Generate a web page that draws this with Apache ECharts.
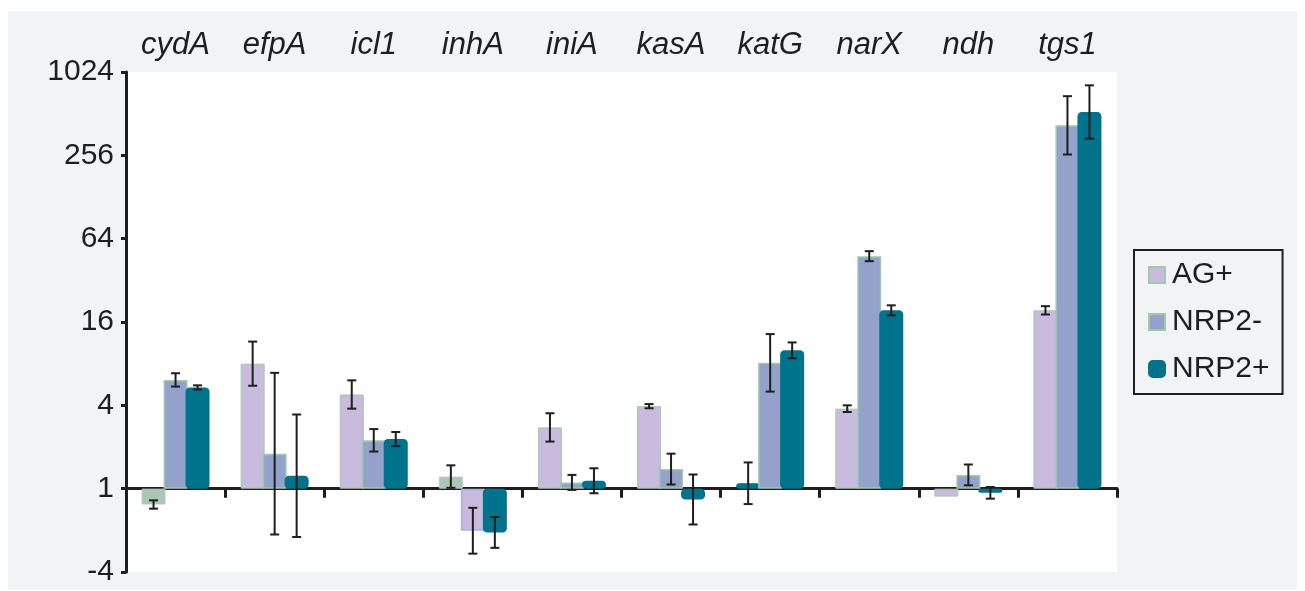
<!DOCTYPE html>
<html>
<head>
<meta charset="utf-8">
<script src="https://cdn.jsdelivr.net/npm/echarts@6/dist/echarts.min.js"></script>
<style>
  html, body { margin: 0; padding: 0; background: #ffffff; }
  #panel { position: absolute; left: 8px; top: 11px; width: 1289px; height: 579px; background: #f2f3f5; }
  #chart { position: absolute; left: 0; top: 0; width: 1305px; height: 591px; }
</style>
</head>
<body>
<div id="panel"></div>
<div id="chart"></div>
<script>
// Genes on the category axis
const genes = ['cydA', 'efpA', 'icl1', 'inhA', 'iniA', 'kasA', 'katG', 'narX', 'ndh', 'tgs1'];

// Relative expression as log2 fold change, with the half-width of each error bar (log2 units)
const agPlus        = [-0.38, 3.00, 2.26, 0.29, 1.47, 1.98, 0.13, 1.92, -0.19, 4.28];
const agPlusErr     = [0.10, 0.53, 0.34, 0.27, 0.34, 0.05, 0.50, 0.08, 0.00, 0.10];
const nrp2Minus     = [2.61, 0.84, 1.16, -1.01, 0.15, 0.47, 3.02, 5.58, 0.33, 8.72];
const nrp2MinusErr  = [0.16, 1.94, 0.27, 0.55, 0.18, 0.37, 0.69, 0.12, 0.25, 0.70];
const nrp2Plus      = [2.43, 0.31, 1.19, -1.05, 0.19, -0.26, 3.32, 4.28, -0.10, 9.04];
const nrp2PlusErr   = [0.05, 1.47, 0.17, 0.37, 0.30, 0.60, 0.19, 0.12, 0.14, 0.64];

// Axis ticks (log2 units) and their fold-change labels
const yTicks = [-2, 0, 2, 4, 6, 8, 10];
const yTickLabels = ['-4', '1', '4', '16', '64', '256', '1024'];

// ---- styling ----
const LILAC = '#c8bbdd';
const BLUE = '#93a1cb';
const TEAL = '#00738c';
const SAGE = '#a9c8b3';
const GREEN_EDGE = '#9fc9a8';
const INK = '#1e1e1e';
const FONT = 'Liberation Sans, Arial, sans-serif';

const BAR_WIDTH = 24;
const BAR_GAP = -1 / 12;                       // slight overlap between neighbouring bars
const BAR_STEP = BAR_WIDTH * (1 + BAR_GAP);    // centre-to-centre distance

const seriesDefs = [
  { name: 'AG+',   values: agPlus,    errors: agPlusErr, icon: 'rect',
    style: { color: LILAC, borderColor: GREEN_EDGE, borderWidth: 1 } },
  { name: 'NRP2-', values: nrp2Minus, errors: nrp2MinusErr, icon: 'rect',
    style: { color: BLUE, borderColor: GREEN_EDGE, borderWidth: 1.5 } },
  { name: 'NRP2+', values: nrp2Plus,  errors: nrp2PlusErr, icon: 'roundRect',
    style: { color: TEAL, borderColor: TEAL, borderWidth: 2.5, borderRadius: 3 } }
];

// Individual bars drawn in a different tint
const pointStyles = {
  'AG+':   { 0: { color: SAGE, borderColor: LILAC }, 3: { color: SAGE, borderColor: LILAC },
             6: { color: TEAL, borderColor: TEAL, borderRadius: 3 } },
  'NRP2-': { 3: { color: LILAC, borderColor: '#a9b2da' } }
};

const barSeries = seriesDefs.map(def => ({
  name: def.name,
  type: 'bar',
  xAxisIndex: 0,
  barWidth: BAR_WIDTH,
  barGap: (BAR_GAP * 100) + '%',
  itemStyle: def.style,
  data: def.values.map((v, i) => {
    const over = (pointStyles[def.name] || {})[i];
    return over ? { value: v, itemStyle: over } : v;
  }),
  z: 2
}));

const errorSeries = seriesDefs.map((def, k) => ({
  name: def.name + ' error',
  type: 'custom',
  xAxisIndex: 0,
  z: 5,
  silent: true,
  data: def.values.map((v, i) => [i, v - def.errors[i], v + def.errors[i]]),
  renderItem: (params, api) => {
    const lo = api.value(1), hi = api.value(2);
    if (hi - lo <= 0) return null;
    const pLo = api.coord([api.value(0), lo]);
    const pHi = api.coord([api.value(0), hi]);
    const x = pLo[0] + (k - 1) * BAR_STEP;
    const cap = 4.5;
    const st = { stroke: INK, lineWidth: 2 };
    return {
      type: 'group',
      children: [
        { type: 'line', shape: { x1: x, y1: pLo[1], x2: x, y2: pHi[1] }, style: st },
        { type: 'line', shape: { x1: x - cap, y1: pHi[1], x2: x + cap, y2: pHi[1] }, style: st },
        { type: 'line', shape: { x1: x - cap, y1: pLo[1], x2: x + cap, y2: pLo[1] }, style: st }
      ]
    };
  }
}));

const chart = echarts.init(document.getElementById('chart'), null, { renderer: 'canvas' });

chart.setOption({
  animation: false,
  backgroundColor: 'transparent',
  grid: {
    left: 126, right: 188, top: 72, bottom: 19,
    show: true, backgroundColor: '#ffffff', borderWidth: 0
  },
  legend: {
    data: seriesDefs.map(d => ({ name: d.name, icon: d.icon })),
    orient: 'vertical',
    left: 1134, top: 250,
    padding: [10, 13, 10, 14],
    itemWidth: 16, itemHeight: 16, itemGap: 17,
    borderColor: INK, borderWidth: 2,
    textStyle: { fontFamily: FONT, fontSize: 30, color: INK, padding: [0, 0, 0, 2] }
  },
  xAxis: [
    {
      type: 'category',
      data: genes,
      position: 'bottom',
      axisLine: { onZero: true, lineStyle: { color: INK, width: 3 } },
      axisTick: { show: true, length: 9, lineStyle: { color: INK, width: 3 } },
      axisLabel: { show: false },
      splitLine: { show: false }
    },
    {
      type: 'category',
      data: genes,
      position: 'top',
      axisLine: { show: false },
      axisTick: { show: false },
      axisLabel: {
        margin: 11,
        fontFamily: FONT, fontStyle: 'italic', fontSize: 31, color: INK
      },
      splitLine: { show: false }
    }
  ],
  yAxis: {
    type: 'value',
    min: yTicks[0], max: yTicks[yTicks.length - 1], interval: 2,
    axisLine: { show: true, lineStyle: { color: INK, width: 3 } },
    axisTick: { show: true, length: 5, lineStyle: { color: INK, width: 3 } },
    splitLine: { show: false },
    axisLabel: {
      margin: 12,
      fontFamily: FONT, fontSize: 30, color: INK,
      formatter: v => {
        const idx = yTicks.indexOf(v);
        return idx >= 0 ? yTickLabels[idx] : '';
      }
    }
  },
  series: barSeries.concat(errorSeries)
});
</script>
</body>
</html>
